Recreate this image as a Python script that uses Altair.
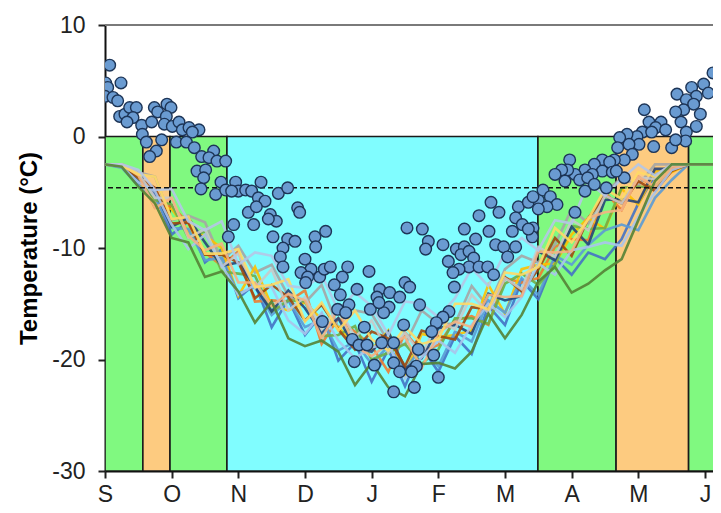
import altair as alt
import pandas as pd

# ---------------- data ----------------
month_ticks = [0, 1, 2, 3, 4, 5, 6, 7, 8, 9]
month_labels = ["S", "O", "N", "D", "J", "F", "M", "A", "M", "J"]
temp_ticks = [-30, -20, -10, 0, 10]

band_start = [0.0, 0.568, 0.975, 1.829, 6.494, 7.666, 8.754]
band_end = [0.568, 0.975, 1.829, 6.494, 7.666, 8.754, 9.6]
band_kind = ["green", "orange", "green", "cyan", "green", "orange", "green"]
band_lo = [-30, -30, -30, -30, -30, -30, -30]
band_hi = [0, 0, 0, 0, 0, 0, 0]

threshold = [-4.6]
top_line = [10]

line_x = [0.0, 0.25, 0.5, 0.75, 1.0, 1.25, 1.5, 1.75, 2.0, 2.25, 2.5, 2.75, 3.0,
          3.25, 3.5, 3.75, 4.0, 4.25, 4.5, 4.75, 5.0, 5.25, 5.5, 5.75, 6.0, 6.25,
          6.5, 6.75, 7.0, 7.25, 7.5, 7.75, 8.0, 8.25, 8.5, 8.75, 9.0, 9.25]

s01 = [-2.5,-2.5,-4.2,-5.2,-8.8,-7.6,-11.3,-10.1,-14.5,-13.2,-17.1,-14.6,-17.8,-15.9,-20.1,-18.5,-22.0,-19.1,-22.4,-18.9,-21.1,-17.9,-19.5,-15.2,-16.9,-12.9,-14.6,-10.9,-12.4,-10.4,-11.0,-9.2,-6.0,-3.5,-2.5,-2.5,-2.5,-2.5]
s02 = [-2.5,-2.7,-3.5,-6.4,-6.2,-7.8,-10.4,-11.6,-10.3,-14.8,-14.7,-14.8,-13.8,-18.6,-16.3,-17.5,-18.8,-21.1,-17.6,-19.3,-18.7,-16.5,-16.1,-16.9,-12.7,-13.1,-12.7,-9.9,-9.2,-9.3,-5.0,-6.6,-3.6,-4.6,-2.8,-2.5,-2.5,-2.5]
s03 = [-2.5,-2.5,-3.2,-3.6,-7.5,-7.1,-7.7,-11.1,-9.8,-12.2,-11.5,-14.3,-14.9,-13.3,-17.2,-15.6,-15.9,-18.4,-18.7,-15.6,-16.8,-16.8,-13.4,-15.3,-11.9,-10.7,-11.3,-9.7,-6.5,-7.8,-5.0,-3.7,-4.4,-2.5,-2.5,-2.5,-2.5,-2.5]
s04 = [-2.5,-2.6,-3.9,-6.2,-6.5,-8.5,-8.9,-10.0,-14.3,-11.7,-15.2,-15.6,-14.9,-16.4,-17.1,-18.7,-19.1,-17.4,-21.4,-17.7,-18.0,-17.8,-17.4,-13.3,-15.9,-11.9,-11.5,-11.4,-8.8,-7.3,-8.3,-4.7,-6.1,-3.1,-3.2,-2.5,-2.5,-2.5]
s05 = [-2.5,-2.8,-4.4,-5.5,-8.2,-8.3,-11.1,-10.9,-14.1,-13.5,-16.0,-14.7,-17.1,-16.4,-19.2,-18.4,-20.4,-18.8,-21.0,-18.8,-20.6,-17.5,-18.4,-14.7,-15.8,-12.7,-14.2,-10.7,-11.5,-9.7,-8.4,-7.9,-8.4,-5.5,-3.9,-2.5,-2.5,-2.5]
s06 = [-2.5,-2.5,-3.6,-5.7,-6.1,-9.1,-8.5,-12.1,-12.3,-12.5,-15.7,-14.7,-14.8,-17.9,-17.8,-17.0,-20.0,-19.4,-18.6,-20.4,-19.1,-16.3,-16.3,-16.8,-13.2,-12.3,-13.3,-11.5,-8.0,-8.3,-8.2,-4.6,-4.5,-4.5,-2.9,-2.5,-2.5,-2.5]
s07 = [-2.5,-2.6,-4.0,-4.9,-8.1,-7.3,-9.5,-11.6,-11.3,-13.5,-15.7,-13.8,-15.4,-17.6,-16.3,-18.9,-19.3,-17.5,-20.8,-19.9,-17.2,-16.9,-17.7,-14.1,-14.7,-14.3,-10.3,-11.1,-8.1,-9.7,-5.7,-5.6,-5.9,-2.9,-2.9,-2.5,-2.5,-2.5]
s08 = [-2.5,-2.5,-3.7,-4.6,-7.8,-7.7,-10.6,-10.6,-11.3,-14.5,-13.3,-14.4,-16.5,-15.1,-17.3,-19.1,-17.5,-18.1,-20.6,-17.4,-17.9,-18.2,-15.3,-15.5,-12.6,-13.9,-11.9,-9.1,-10.7,-7.3,-5.3,-6.0,-4.0,-4.9,-3.1,-2.5,-2.5,-2.5]
s09 = [-2.5,-2.5,-3.3,-5.5,-5.5,-9.1,-8.3,-11.7,-10.5,-13.6,-11.9,-15.6,-14.4,-17.3,-15.3,-18.0,-16.5,-19.4,-17.6,-19.6,-16.5,-17.3,-14.2,-15.8,-12.7,-13.7,-9.9,-10.8,-7.5,-8.4,-5.3,-6.0,-3.7,-3.8,-2.6,-2.5,-2.5,-2.5]
s10 = [-2.5,-2.7,-4.1,-4.9,-7.9,-10.1,-8.8,-11.5,-14.2,-13.3,-13.5,-16.5,-17.7,-15.8,-18.3,-19.9,-18.9,-18.6,-21.7,-19.8,-18.3,-19.4,-16.9,-15.0,-16.2,-14.4,-11.4,-12.4,-10.2,-9.9,-9.5,-9.8,-7.2,-5.0,-3.0,-2.5,-2.5,-2.5]
s11 = [-2.5,-2.5,-3.5,-6.4,-5.5,-8.9,-10.2,-9.6,-13.1,-13.1,-15.2,-14.1,-14.7,-18.1,-15.5,-18.8,-19.7,-18.6,-18.0,-20.8,-17.6,-16.6,-17.1,-14.2,-14.4,-14.3,-10.3,-10.4,-10.3,-7.3,-6.8,-6.6,-3.6,-4.5,-2.8,-2.5,-2.5,-2.5]
s12 = [-2.5,-2.6,-3.4,-3.6,-7.4,-7.2,-10.5,-10.5,-10.1,-13.5,-13.3,-12.8,-16.6,-14.9,-17.4,-15.6,-18.2,-19.2,-17.1,-18.6,-18.2,-15.0,-15.0,-15.5,-12.2,-12.4,-11.7,-8.2,-9.5,-7.4,-4.7,-5.6,-3.2,-3.6,-2.5,-2.5,-2.5,-2.5]
s13 = [-2.5,-2.5,-3.0,-4.8,-4.7,-7.6,-8.4,-7.6,-11.5,-10.4,-10.7,-13.4,-13.6,-12.4,-15.6,-14.0,-15.2,-17.8,-14.8,-15.0,-16.2,-14.5,-11.8,-13.4,-10.4,-9.1,-10.2,-7.5,-7.8,-4.1,-5.3,-3.8,-2.5,-3.5,-2.5,-2.5,-2.5,-2.5]
s14 = [-2.5,-2.7,-4.5,-6.0,-9.1,-9.5,-12.6,-12.1,-13.9,-16.7,-14.8,-18.1,-18.8,-18.3,-19.3,-22.3,-20.3,-22.5,-23.3,-20.4,-20.3,-20.8,-19.3,-15.9,-18.1,-16.0,-13.0,-11.7,-14.0,-13.2,-12.0,-11.0,-7.5,-4.0,-2.5,-2.5,-2.5,-2.5]

series_names = ["s01", "s02", "s03", "s04", "s05", "s06", "s07",
                "s08", "s09", "s10", "s11", "s12", "s13", "s14"]
series_values = [s01, s02, s03, s04, s05, s06, s07, s08, s09, s10, s11, s12, s13, s14]
series_colors = ["#4472C4", "#ED7D31", "#A5A5A5", "#FFC000", "#5B9BD5", "#70AD47", "#264478",
                 "#9E480E", "#C9C9C9", "#A9C4EB", "#F4B183", "#FFD966", "#B4C7E7", "#548235"]

# observed daily points: (month position, temperature)
obs = [
    (0.07, 6.4), (0.01, 4.8), (0.04, 4.4), (0.24, 4.8), (0.0, 3.6), (0.12, 3.5), (0.19, 3.2),
    (0.22, 1.8), (0.30, 2.0), (0.37, 2.6), (0.47, 2.6), (0.42, 1.7), (0.33, 1.3), (0.55, 1.0),
    (0.74, 2.6), (0.79, 2.2), (0.93, 2.9), (0.99, 2.6), (0.92, 1.8), (0.70, 1.3), (0.89, 1.1),
    (1.01, 0.9), (1.11, 1.3), (1.16, 0.6), (1.26, 0.8), (1.41, 0.6), (1.31, 0.4), (0.56, 0.2),
    (0.62, -0.5), (0.85, -0.3), (0.77, -1.3), (0.67, -1.8), (1.07, -0.5), (1.22, -0.5), (1.34, -1.0),
    (1.45, -1.8), (1.63, -1.3), (1.56, -1.9), (1.68, -2.2), (1.81, -2.2), (1.38, -3.1), (1.51, -3.0),
    (1.48, -3.7), (1.44, -4.7), (1.74, -4.1), (1.66, -5.2), (1.81, -4.8), (1.96, -4.1), (2.00, -4.9),
    (2.11, -4.8), (2.20, -4.9), (2.34, -4.1), (2.30, -5.5), (2.40, -5.8), (2.15, -6.8), (2.27, -6.3),
    (2.23, -7.9), (1.93, -7.9), (1.85, -9.0),
    (2.60, -5.1), (2.74, -4.6), (1.90, -4.9), (2.48, -7.0), (2.57, -7.6), (2.45, -7.4), (2.89, -6.4),
    (2.92, -6.8), (2.52, -9.0), (2.74, -9.2), (2.85, -9.4), (2.67, -10.0), (3.15, -9.0), (3.16, -9.9),
    (3.31, -8.5), (2.63, -10.8), (2.67, -11.7), (3.00, -11.0), (3.09, -11.9), (2.94, -12.2),
    (3.04, -12.6), (3.01, -13.1), (3.22, -12.6), (3.29, -11.9), (3.38, -11.7), (3.64, -11.7),
    (3.56, -12.6), (3.44, -13.3), (3.53, -14.2), (3.78, -13.7), (3.96, -12.1), (3.66, -15.1),
    (3.49, -15.5), (3.61, -15.8), (4.12, -13.7), (4.27, -14.0), (4.08, -14.4), (4.26, -15.3),
    (3.98, -15.5), (4.18, -15.8), (3.26, -16.6), (3.89, -17.1), (3.71, -18.2), (3.81, -18.7),
    (3.93, -18.7), (4.15, -18.5), (4.33, -18.5), (3.74, -20.2), (4.04, -20.5), (4.33, -20.3),
    (4.33, -22.9),
    (5.79, -5.9), (5.91, -6.8), (5.61, -7.1), (6.20, -6.3), (6.35, -5.9), (6.50, -5.7), (6.16, -7.3),
    (6.26, -7.9), (6.42, -8.2), (6.41, -9.0), (6.11, -8.5), (4.53, -8.2), (4.76, -8.3), (4.85, -9.4),
    (4.81, -10.1), (5.07, -9.7), (5.39, -8.3), (5.56, -9.2), (5.76, -8.5), (5.86, -9.7), (5.98, -9.9),
    (6.16, -9.9), (6.04, -10.8), (5.15, -11.2), (5.27, -10.1), (5.39, -9.9), (5.34, -10.6),
    (5.46, -10.3), (5.53, -10.9), (5.46, -11.7), (5.31, -11.9), (5.22, -12.2), (5.61, -11.7),
    (5.74, -11.7), (5.83, -12.4), (4.50, -13.1), (4.57, -13.5), (4.42, -14.4), (4.11, -14.9),
    (5.24, -13.5), (4.72, -15.1), (5.16, -15.7), (5.07, -16.2), (4.97, -16.7), (4.90, -17.5),
    (4.48, -16.9), (4.70, -19.1), (4.93, -19.6), (4.67, -20.6), (4.42, -21.1), (4.60, -21.1),
    (5.00, -21.6), (4.64, -22.5),
    (9.12, 5.7), (8.98, 4.7), (9.05, 3.9), (8.80, 4.4), (8.58, 3.8), (8.87, 3.6), (8.72, 3.3),
    (8.83, 2.9), (8.68, 2.4), (8.56, 2.2), (8.93, 2.0), (8.64, 1.3), (8.87, 0.9), (8.72, 0.4),
    (8.71, -0.4), (8.50, -1.0), (8.56, -0.3), (8.09, 2.4), (8.16, 1.3), (8.34, 1.3), (8.26, 0.8),
    (8.41, 0.6), (8.06, 0.4), (8.20, 0.4), (7.98, 0.0), (7.83, 0.2), (7.72, -0.1), (8.01, -0.7),
    (8.23, -0.9), (7.86, -0.7), (7.69, -1.0), (7.91, -1.6), (7.79, -2.1), (7.64, -2.1), (6.97, -2.1),
    (7.46, -2.1), (7.57, -2.3), (7.34, -2.5), (7.20, -3.0), (7.46, -3.1), (7.61, -3.2), (7.79, -3.7),
    (7.67, -3.1), (7.31, -3.4), (7.05, -3.4), (6.94, -3.0), (6.85, -3.0), (6.75, -3.4), (6.90, -4.0),
    (7.12, -3.9), (7.24, -3.7), (7.34, -4.3), (7.52, -4.6), (7.20, -4.9), (6.57, -4.8), (6.42, -5.4),
    (6.68, -5.4), (6.78, -6.1), (6.63, -6.3), (6.50, -6.5), (7.05, -6.8), (6.35, -8.3),
]

# ---------------- tables ----------------
bands = pd.DataFrame({"start": band_start, "end": band_end, "kind": band_kind,
                      "lo": band_lo, "hi": band_hi})
rows = []
for name, vals in zip(series_names, series_values):
    for xv, yv in zip(line_x, vals):
        rows.append({"month": xv, "temp": yv, "series": name})
lines = pd.DataFrame(rows)
points = pd.DataFrame(obs, columns=["month", "temp"])
thr = pd.DataFrame({"temp": threshold})
top = pd.DataFrame({"temp": top_line})

# ---------------- scales / axes ----------------
FONT = "Liberation Sans"
xscale = alt.Scale(domain=[0, 9.12], nice=False, zero=False)
yscale = alt.Scale(domain=[-30, 10], nice=False, zero=False)
label_expr = "[" + ",".join("'" + m + "'" for m in month_labels) + "][datum.value]"
xaxis = alt.Axis(values=month_ticks, labelExpr=label_expr, title=None, grid=False,
                 labelFont=FONT, labelFontSize=23, labelColor="#222222", labelPadding=5,
                 tickSize=7, tickWidth=2, tickColor="#222222",
                 domainColor="#111111", domainWidth=2, labelFlush=False)
yaxis = alt.Axis(values=temp_ticks, labelExpr="'' + datum.value",
                 title="Temperature (°C)", grid=False,
                 labelFont=FONT, labelFontSize=23, labelColor="#222222", labelPadding=13,
                 tickSize=7, tickWidth=2, tickColor="#222222",
                 domainColor="#111111", domainWidth=2,
                 titleFont=FONT, titleFontSize=24, titleFontWeight="bold",
                 titleColor="#000000", titlePadding=10)

band_layer = alt.Chart(bands).mark_rect(clip=True, stroke="#1a1a1a", strokeWidth=1.6).encode(
    x=alt.X("start:Q", scale=xscale, axis=xaxis),
    x2="end:Q",
    y=alt.Y("lo:Q", scale=yscale, axis=yaxis),
    y2="hi:Q",
    fill=alt.Fill("kind:N", scale=alt.Scale(domain=["green", "orange", "cyan"],
                                            range=["#80F980", "#FDCB80", "#80FDFF"]),
                  legend=None),
)

line_layer = alt.Chart(lines).mark_line(clip=True, strokeWidth=2.6, opacity=0.9).encode(
    x=alt.X("month:Q", scale=xscale, axis=xaxis),
    y=alt.Y("temp:Q", scale=yscale, axis=yaxis),
    color=alt.Color("series:N", scale=alt.Scale(domain=series_names, range=series_colors),
                    legend=None),
    detail="series:N",
)

thr_layer = alt.Chart(thr).mark_rule(color="#111111", strokeWidth=1.5, strokeDash=[5, 3]).encode(
    y=alt.Y("temp:Q", scale=yscale, axis=yaxis),
)

top_layer = alt.Chart(top).mark_rule(color="#7a7a7a", strokeWidth=2.2).encode(
    y=alt.Y("temp:Q", scale=yscale, axis=yaxis),
)

point_layer = alt.Chart(points).mark_point(
    clip=True, filled=True, shape="circle", size=135, fill="#6A9BD1", fillOpacity=1,
    stroke="#1D3557", strokeWidth=1.4, opacity=1
).encode(
    x=alt.X("month:Q", scale=xscale, axis=xaxis),
    y=alt.Y("temp:Q", scale=yscale, axis=yaxis),
)

# total svg: 97 + 608 = 705 wide (page body width), 17 + 446 + 42 = 505 high
chart = alt.layer(band_layer, line_layer, thr_layer, top_layer, point_layer).properties(
    width=608, height=446,
    autosize=alt.AutoSizeParams(type="none"),
    padding={"left": 97, "top": 17, "right": 0, "bottom": 42},
    background="white",
).configure_view(strokeWidth=0)

chart.save("out.html", embed_options={"renderer": "svg", "actions": False})
